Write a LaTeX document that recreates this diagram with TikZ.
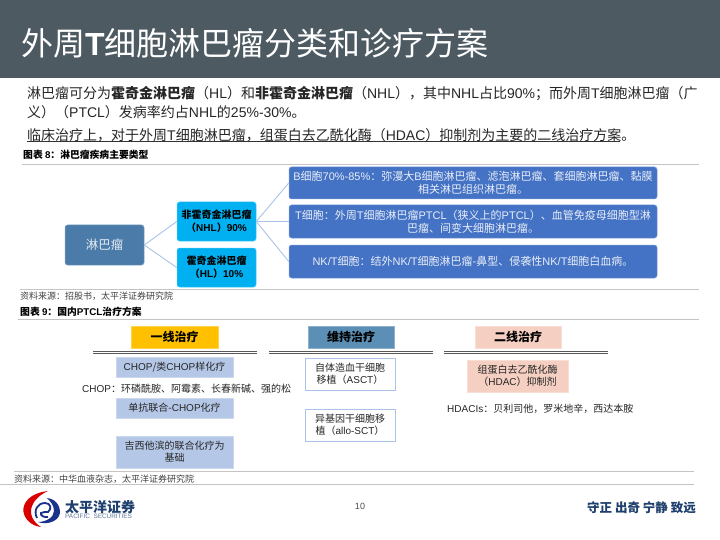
\documentclass[tikz,border=0pt]{standalone}
\usepackage{fontspec}
\setmainfont{Noto Sans CJK SC}
\newfontfamily\latf{Liberation Sans}
\newcommand\Lt[1]{{\latf #1}}
\newcommand\LtB[1]{{\latf\bfseries #1}}
\newcommand\fs[1]{\fontsize{#1}{12.2}\selectfont}
\newcommand\fsb[1]{\fontsize{#1}{13}\selectfont}
\definecolor{band}{HTML}{4D5A62}
\definecolor{bluebox}{HTML}{4472C4}
\definecolor{cyanbox}{HTML}{00B0F0}
\definecolor{rootbox}{HTML}{4A7BA9}
\definecolor{conn}{HTML}{A9C4E8}
\definecolor{rulegray}{HTML}{C4C4C4}
\definecolor{peach}{HTML}{F5D0C2}
\definecolor{paleblue}{HTML}{B4C7E7}
\definecolor{midblue}{HTML}{5B8FB5}
\definecolor{edgeblue}{HTML}{A9C4E8}
\definecolor{navy}{HTML}{1F3F6E}
\definecolor{gold}{HTML}{FFC000}
\tikzset{
  x=1pt,y=-1pt,
  txt/.style={anchor=west,inner sep=0pt,text=black!85},
  body/.style={txt,font=\fs{14}},
  captxt/.style={txt,font=\fs{9.8}\bfseries,text=black},
  srctxt/.style={txt,font=\fs{9},text=black!75},
  rulel/.style={rulegray,line width=1pt},
  dbl/.style={black!65,line width=0.9pt},
  rbox/.style={rounded corners=2.5pt,fill=#1,draw=#1!70!white,line width=0.5pt,align=center,inner sep=0pt},
  sbox/.style={fill=#1,draw=#1!70!white,line width=0.6pt,align=center,inner sep=0pt},
  edgec/.style={conn,line width=0.9pt},
}
\newcommand\boxn[8]{% name style x1 y1 x2 y2 font text
  \node[#2,minimum width=#5pt-#3pt,minimum height=#6pt-#4pt,font=#7] (#1) at ({(#3+#5)/2},{(#4+#6)/2}) {#8};}
\begin{document}
\begin{tikzpicture}
\useasboundingbox (0,0) rectangle (720,540);
\fill[white] (0,0) rectangle (720,540);
\fill[band] (0,0) rectangle (720,78);
\node[txt,text=white,font=\fs{32}] (title) at (21,43) {外周\LtB{T}细胞淋巴瘤分类和诊疗方案};

\node[body] (p1) at (27,94) {淋巴瘤可分为\textbf{霍奇金淋巴瘤}（\Lt{HL}）和\textbf{非霍奇金淋巴瘤}（\Lt{NHL}），其中\Lt{NHL}占比\Lt{90\%}；而外周\Lt{T}细胞淋巴瘤（广};
\node[body] (p2) at (27,112) {义）（\Lt{PTCL}）发病率约占\Lt{NHL}的\Lt{25\%-30\%}。};
\node[body] (p3) at (27,135) {临床治疗上，对于外周\Lt{T}细胞淋巴瘤，组蛋白去乙酰化酶（\Lt{HDAC}）抑制剂为主要的二线治疗方案。};
\coordinate (u1) at (27,141.5); \coordinate (u2) at (620,141.5);
\draw[black!80,line width=0.6pt] (u1) -- (u2);

\node[captxt] (c8) at (23,155) {图表 \Lt{8}：淋巴瘤疾病主要类型};
\coordinate (r1a) at (22,165); \coordinate (r1b) at (699,165);
\draw[rulel] (r1a) -- (r1b);

\boxn{root}{rbox=rootbox,text=white!85!rootbox}{65}{225}{144}{265}{\fs{12.5}}{淋巴瘤}
\boxn{nhl}{rbox=cyanbox,text=black}{177}{202}{256}{241}{\fsb{10}\bfseries}{非霍奇金淋巴瘤\\（\LtB{NHL}）\LtB{90\%}}
\boxn{hl}{rbox=cyanbox,text=black}{177}{248}{256}{287}{\fsb{10}\bfseries}{霍奇金淋巴瘤\\（\LtB{HL}）\LtB{10\%}}
\boxn{bc}{rbox=bluebox,text=white!88!bluebox}{289}{167}{657}{199}{\fsb{11}}{\Lt{B}细胞\Lt{70\%-85\%}：弥漫大\Lt{B}细胞淋巴瘤、滤泡淋巴瘤、套细胞淋巴瘤、黏膜\\相关淋巴组织淋巴瘤。}
\boxn{tc}{rbox=bluebox,text=white!88!bluebox}{289}{205}{657}{238}{\fsb{11}}{\Lt{T}细胞：外周\Lt{T}细胞淋巴瘤\Lt{PTCL}（狭义上的\Lt{PTCL}）、血管免疫母细胞型淋\\巴瘤、间变大细胞淋巴瘤。}
\boxn{nk}{rbox=bluebox,text=white!88!bluebox}{289}{245}{657}{278}{\fsb{11}}{\Lt{NK/T}细胞：结外\Lt{NK/T}细胞淋巴瘤-鼻型、侵袭性\Lt{NK/T}细胞白血病。}

\draw[edgec] (root.east) -- (nhl.west);
\draw[edgec] (root.east) -- (hl.west);
\draw[edgec] (nhl.east) -- (bc.west);
\draw[edgec,line width=1.6pt] (nhl.east) -- (nhl.east -| tc.west);
\draw[edgec] (nhl.east) -- (nk.west);

\coordinate (r2a) at (20,289.5); \coordinate (r2b) at (699,289.5);
\draw[rulel] (r2a) -- (r2b);
\node[srctxt] (s8) at (20,296) {资料来源：招股书，太平洋证券研究院};
\node[captxt] (c9) at (20,312) {图表 \Lt{9}：国内\LtB{PTCL}治疗方案};
\coordinate (r3a) at (18,319); \coordinate (r3b) at (699,319);
\draw[rulel] (r3a) -- (r3b);

\boxn{h1}{sbox=gold,text=black}{131}{326}{218}{348}{\fs{12}\bfseries}{一线治疗}
\boxn{h2}{sbox=midblue,text=black}{308}{326}{394}{348}{\fs{12}\bfseries}{维持治疗}
\boxn{h3}{sbox=peach,text=black}{475}{326}{561}{348}{\fs{12}\bfseries}{二线治疗}

\foreach \a/\b in {93/257,269/433,444/608}{
  \draw[dbl] (\a,351.5) -- (\b,351.5);
  \draw[dbl] (\a,353.5) -- (\b,353.5);
}

\boxn{chop}{sbox=paleblue,text=black!85}{116}{357}{233}{377}{\fs{10}}{\Lt{CHOP}/类\Lt{CHOP}样化疗}
\node[txt,font=\fs{10}] (choptxt) at (82,389) {\Lt{CHOP}：环磷酰胺、阿霉素、长春新碱、强的松};
\boxn{mab}{sbox=paleblue,text=black!85}{116}{398}{233}{418}{\fs{10}}{单抗联合-\Lt{CHOP}化疗}
\boxn{gem}{sbox=paleblue,text=black!85}{116}{436}{233}{468}{\fs{10}}{吉西他滨的联合化疗为\\基础}

\boxn{asct}{sbox=white,draw=edgeblue,line width=1pt,text=black!85}{305}{358}{395}{390}{\fs{10}}{自体造血干细胞\\移植（\Lt{ASCT}）}
\boxn{allo}{sbox=white,draw=edgeblue,line width=1pt,text=black!85}{305}{409}{395}{441}{\fs{10}}{异基因干细胞移\\植（\Lt{allo-SCT}）}
\boxn{hdac}{sbox=peach,text=black!85}{467}{360}{568}{392}{\fs{10}}{组蛋白去乙酰化酶\\（\Lt{HDAC}）抑制剂}
\node[txt,font=\fs{10}] (hdactxt) at (447,409) {\Lt{HDACIs}：贝利司他，罗米地辛，西达本胺};

\coordinate (r4a) at (14,471); \coordinate (r4b) at (694,471);
\draw[rulel] (r4a) -- (r4b);
\node[srctxt] (s9) at (14,479) {资料来源：中华血液杂志，太平洋证券研究院};
\coordinate (r5a) at (0,484.5); \coordinate (r5b) at (694,484.5);
\draw[rulegray,line width=1.4pt] (r5a) -- (r5b);

% logo
\fill[red!85!black] (48,491) .. controls (30,493) and (22,503) .. (23.5,512) .. controls (25,520) and (32,526) .. (41,527) .. controls (33,522) and (29,514) .. (32,506) .. controls (34,500) and (41,494) .. (48,491) -- cycle;
\fill[navy!80!blue] (47,498) .. controls (58,499) and (62,510) .. (59,516) .. controls (56,522) and (46,525) .. (38,522) .. controls (45,522) and (54,518) .. (54,511) .. controls (54,505) and (50,501) .. (47,498) -- cycle;
\draw[navy!80!blue,line width=1.8pt] (37,518) .. controls (33,510) and (38,503) .. (45,503) .. controls (51,503) and (52,509) .. (48,512) .. controls (45,513) and (43,511) .. (41,513) .. controls (40,515) and (44,518) .. (48,517);
\node[txt,text=navy,font=\fs{14}\bfseries] (logoa) at (65,507) {太平洋证券};
\node[txt,text=navy!70,font=\fs{6.4}] (logob) at (65,516.5) {\Lt{PACIFIC\ \ SECURITIES}};

\node[inner sep=0pt,font=\fs{9},text=black!70] (pg) at (360,506) {\Lt{10}};
\node[txt,text=navy,font=\fs{12.5}\bfseries] (slogan) at (587,508) {守正 出奇 宁静 致远};
\end{tikzpicture}
\end{document}
